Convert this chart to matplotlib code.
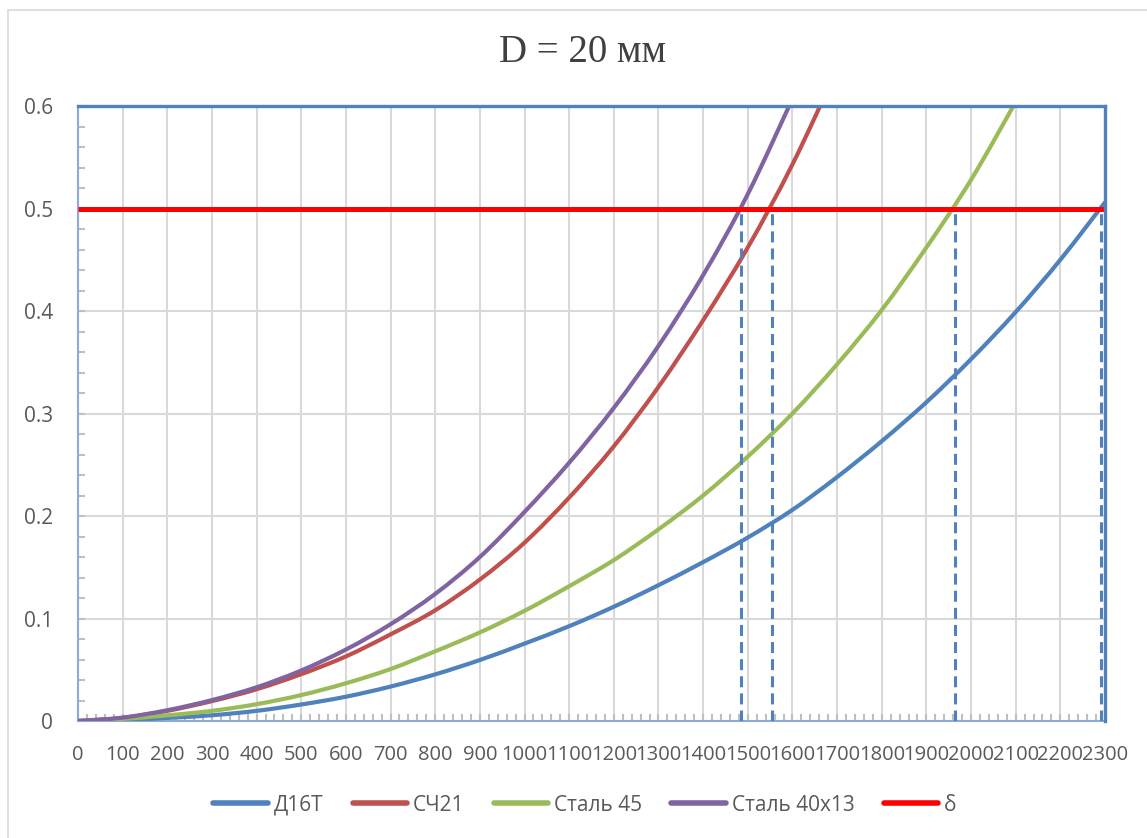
import matplotlib
matplotlib.use("Agg")
import matplotlib.pyplot as plt
from matplotlib.ticker import MultipleLocator, FixedLocator
from matplotlib.patches import Rectangle, PathPatch
from matplotlib.path import Path
from matplotlib.lines import Line2D

# Rotation speed, step 100
x_d16t = list(range(0, 2400, 100))
x_sch21 = list(range(0, 1800, 100))
x_st45 = list(range(0, 2200, 100))
x_st4013 = list(range(0, 1700, 100))

# Deflection values for each material
d16t = [0, 0.001, 0.003, 0.0056, 0.0099, 0.0161, 0.0237, 0.0336, 0.0455, 0.0595,
        0.0755, 0.0925, 0.1115, 0.1325, 0.155, 0.179, 0.206, 0.238, 0.273, 0.311,
        0.353, 0.399, 0.450, 0.506]
sch21 = [0, 0.003, 0.0099, 0.0194, 0.031, 0.0457, 0.063, 0.0845, 0.108, 0.138,
         0.174, 0.218, 0.268, 0.326, 0.391, 0.462, 0.543, 0.636]
st45 = [0, 0.002, 0.0055, 0.0099, 0.0164, 0.0253, 0.0368, 0.0507, 0.068, 0.0864,
        0.1075, 0.1315, 0.157, 0.187, 0.220, 0.258, 0.300, 0.348, 0.401, 0.462,
        0.528, 0.604]
st4013 = [0, 0.0033, 0.0105, 0.0204, 0.0329, 0.0493, 0.0697, 0.0944, 0.124, 0.160,
          0.204, 0.252, 0.3055, 0.366, 0.435, 0.514, 0.607]

# Allowed deflection
delta_x = [0, 2300]
delta_y = [0.5, 0.5]

# Speeds at which each curve reaches the allowed deflection
cross_x = [2290, 1555, 1963, 1484]
cross_y = 0.5

labels = ["Д16Т", "СЧ21", "Сталь 45", "Сталь 40х13", "δ"]
colors = ["#4F81BD", "#C0504D", "#9BBB59", "#8064A2", "#FF0000"]

x_ticks = list(range(0, 2400, 100))
y_ticks = [0, 0.1, 0.2, 0.3, 0.4, 0.5, 0.6]
y_ticklabels = ["0", "0.1", "0.2", "0.3", "0.4", "0.5", "0.6"]

text_color = "#595959"
plt.rcParams["font.family"] = ["Open Sans", "DejaVu Sans"]


def smooth_path(xs, ys):
    """Smoothed polyline through the points (cubic Bezier segments)."""
    pts = list(zip(xs, ys))
    n = len(pts)
    verts = [pts[0]]
    codes = [Path.MOVETO]
    for i in range(n - 1):
        p0 = pts[i - 1] if i > 0 else pts[i]
        p1 = pts[i]
        p2 = pts[i + 1]
        p3 = pts[i + 2] if i + 2 < n else pts[i + 1]
        c1 = (p1[0] + (p2[0] - p0[0]) / 6, p1[1] + (p2[1] - p0[1]) / 6)
        c2 = (p2[0] - (p3[0] - p1[0]) / 6, p2[1] - (p3[1] - p1[1]) / 6)
        verts += [c1, c2, p2]
        codes += [Path.CURVE4] * 3
    return Path(verts, codes)


fig = plt.figure(figsize=(11.47, 8.38), dpi=100)
fig.patches.append(Rectangle((8 / 1147, -0.05), 1.2, 0.05 + (838 - 10) / 838,
                             transform=fig.transFigure, fill=False,
                             edgecolor="#D9D9D9", linewidth=1.2))

ax = fig.add_axes([78 / 1147, 1 - 721 / 838, (1105 - 78) / 1147, (721 - 106) / 838])

series = [(x_d16t, d16t), (x_sch21, sch21), (x_st45, st45), (x_st4013, st4013)]
handles = []
for (xs, ys), lab, col in zip(series, labels[:4], colors[:4]):
    patch = PathPatch(smooth_path(xs, ys), fill=False, edgecolor=col, lw=3.0,
                      capstyle="round", joinstyle="round", zorder=3)
    ax.add_patch(patch)
    handles.append(Line2D([], [], color=col, lw=4, solid_capstyle="round", label=lab))
ax.plot(delta_x, delta_y, color=colors[4], lw=3.6, label=labels[4],
        solid_capstyle="butt", zorder=4)
handles.append(Line2D([], [], color=colors[4], lw=4, solid_capstyle="round", label=labels[4]))

for cx in cross_x:
    ax.plot([cx, cx], [0, cross_y], color="#4F81BD", lw=2.2,
            dashes=(3.6, 2.0), dash_capstyle="butt", zorder=5)

ax.set_xlim(0, 2300)
ax.set_ylim(0, 0.6)
ax.xaxis.set_major_locator(FixedLocator(x_ticks))
ax.set_xticklabels([str(v) for v in x_ticks])
ax.yaxis.set_major_locator(FixedLocator(y_ticks))
ax.set_yticklabels(y_ticklabels)
ax.xaxis.set_minor_locator(MultipleLocator(20))
ax.yaxis.set_minor_locator(MultipleLocator(0.02))

ax.grid(True, which="major", color="#D9D9D9", lw=1.5, zorder=0)
ax.set_axisbelow(True)

ax.tick_params(axis="both", which="both", direction="in", color="#BFBFBF",
               length=5, width=1.5, labelcolor=text_color)
ax.tick_params(axis="x", which="major", pad=17, labelsize=14.5)
ax.tick_params(axis="y", which="major", pad=18, labelsize=15)

for side in ("left", "bottom"):
    ax.spines[side].set_color("#8EA9DB")
    ax.spines[side].set_linewidth(1.5)
for side in ("top", "right"):
    ax.spines[side].set_color("#4F81BD")
    ax.spines[side].set_linewidth(2.4)
    ax.spines[side].set_zorder(6)

fig.text(583 / 1147, 1 - 53 / 838, "D = 20 мм", family="Liberation Serif",
         fontsize=28, color="#404040", ha="center", va="center")

leg = fig.legend(handles=handles, loc="center", bbox_to_anchor=(585 / 1147, 1 - 805 / 838),
                 ncol=5, frameon=False, fontsize=15, handlelength=2.6,
                 handletextpad=0.3, columnspacing=1.4, labelcolor=text_color)

fig.savefig("out.png", dpi=100, facecolor="white")
